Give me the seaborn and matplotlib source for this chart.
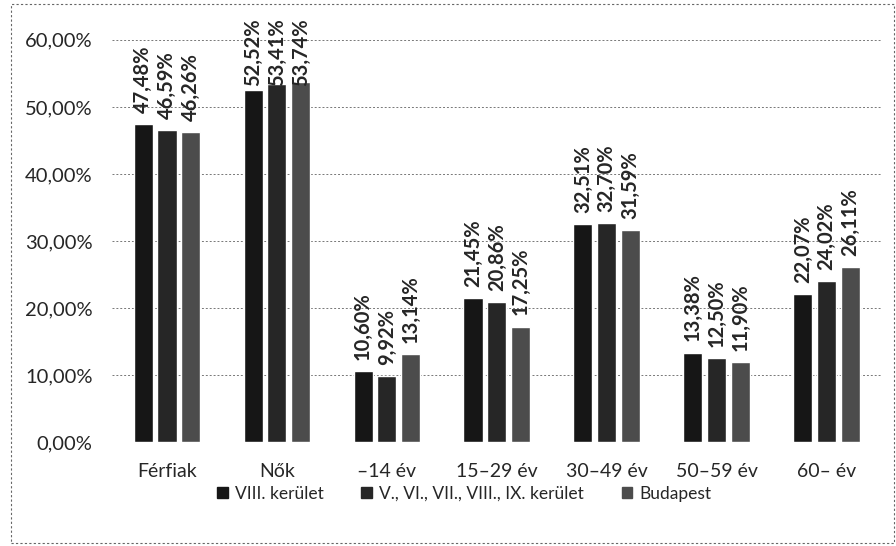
"""
Population share by sex and age group - VIII. kerület vs. inner districts vs. Budapest
"""
import matplotlib.pyplot as plt
import matplotlib.patches as mpatches
import seaborn as sns
import pandas as pd

categories = ['Férfiak', 'Nők', '–14 év', '15–29 év', '30–49 év', '50–59 év', '60– év']
series = ['VIII. kerület', 'V., VI., VII., VIII., IX. kerület', 'Budapest']
viii = [47.48, 52.52, 10.60, 21.45, 32.51, 13.38, 22.07]
inner = [46.59, 53.41, 9.92, 20.86, 32.70, 12.50, 24.02]
budapest = [46.26, 53.74, 13.14, 17.25, 31.59, 11.90, 26.11]
yticks = [0, 10, 20, 30, 40, 50, 60]

colors = ['#161616', '#262626', '#4c4c4c']

rows = []
for name, vals in zip(series, [viii, inner, budapest]):
    for cat, v in zip(categories, vals):
        rows.append({'cat': cat, 'series': name, 'value': v})
df = pd.DataFrame(rows)

sns.set_style("white")
plt.rcParams['font.family'] = ['Lato', 'DejaVu Sans']

fig = plt.figure(figsize=(8.96, 5.46), dpi=100)
ax = fig.add_axes([0.125, 0.19, 0.859, 0.737])

sns.barplot(data=df, x='cat', y='value', hue='series', order=categories,
            hue_order=series, palette=colors, width=0.65, gap=0.2,
            saturation=1, ax=ax, legend=False)

# value labels; the tallest ones get pushed down onto the bar like Excel does
for container in ax.containers:
    for b in container:
        h = b.get_height()
        x = b.get_x() + b.get_width() / 2
        ax.annotate(f'{h:.2f}%'.replace('.', ','), (x, min(h, 51.5)),
                    xytext=(0, 8), textcoords='offset points', rotation=90,
                    ha='center', va='bottom', fontsize=14.5, fontweight='bold',
                    annotation_clip=False)

ax.set_ylim(0, 60)
ax.set_xlim(-0.5, len(categories) - 0.5)
ax.set_yticks(yticks)
ax.set_yticklabels([f'{t},00%' for t in yticks], fontsize=14.5)
ax.tick_params(axis='x', labelsize=14, pad=15, length=0)
ax.tick_params(axis='y', pad=14, length=0)
ax.set_xlabel('')
ax.set_ylabel('')
ax.yaxis.grid(True, linestyle=(0, (2, 2)), color='#777777', linewidth=0.7)
ax.set_axisbelow(True)
for s in ax.spines.values():
    s.set_visible(False)

handles = [mpatches.Patch(color=c, label=s) for c, s in zip(colors, series)]
fig.legend(handles=handles, loc='center', bbox_to_anchor=(0.518, 0.096), ncol=3,
           frameon=False, fontsize=12.5, handlelength=0.6, handleheight=0.6,
           handletextpad=0.4, columnspacing=2.2)

# dashed frame around the chart
fig.patches.append(mpatches.Rectangle((0.012, 0.005), 0.986, 0.988, transform=fig.transFigure,
                                      fill=False, edgecolor='#666666', linewidth=0.8,
                                      linestyle=(0, (2, 2))))

plt.savefig('out.png', dpi=100)
